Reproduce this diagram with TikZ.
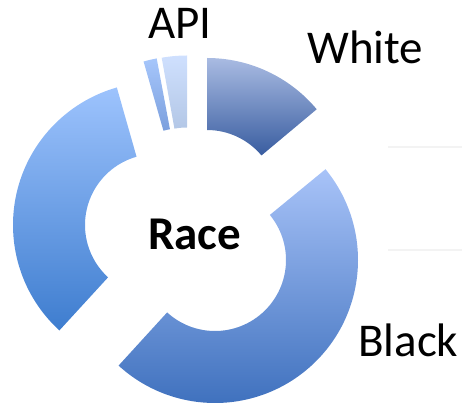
\documentclass[tikz,border=0pt]{standalone}
\usepackage{fontspec}
\setmainfont{Carlito}
\usetikzlibrary{calc}
\definecolor{whtop}{HTML}{A9BBE2}
\definecolor{whbot}{HTML}{395DA0}
\definecolor{bktop}{HTML}{A8C3F8}
\definecolor{bkbot}{HTML}{3A6DBB}
\definecolor{lftop}{HTML}{9DC3FD}
\definecolor{lfbot}{HTML}{3E7DCF}
\definecolor{aatop}{HTML}{A6C6FB}
\definecolor{aabot}{HTML}{7B9FDD}
\definecolor{abtop}{HTML}{CFE0FE}
\definecolor{abbot}{HTML}{B3C7E6}
\definecolor{faint}{HTML}{F3F3F3}
\newcommand{\ringseg}[6]{%
  % #1 centre, #2 start angle, #3 end angle, #4 top colour, #5 bottom colour, #6 name
  \coordinate (#6) at #1;
  \path[top color=#4, bottom color=#5, draw=none]
    ($(#6)+(#2:143)$) arc[start angle=#2, end angle=#3, radius=143]
    -- ($(#6)+(#3:71)$) arc[start angle=#3, end angle=#2, radius=71] -- cycle;
}
\tikzset{lbl/.style={anchor=base west, inner sep=0pt, font=\fontsize{47}{52}\selectfont}}
\begin{document}
\begin{tikzpicture}[x=1pt,y=1pt]
\useasboundingbox (0,0) rectangle (462,407);
\draw[faint, line width=2] (388,260) -- (462,260);
\draw[faint, line width=2] (388,157) -- (462,157);
\ringseg{(207,206)}{90}{39.9}{whtop}{whbot}{cwhite}
\ringseg{(215,147)}{39.4}{-132.4}{bktop}{bkbot}{cblack}
\ringseg{(156,182)}{227.5}{105.9}{lftop}{lfbot}{cleft}
\ringseg{(183,208)}{106}{100.6}{aatop}{aabot}{capia}
\ringseg{(187,208.5)}{100.2}{90}{abtop}{abbot}{capib}
\node[lbl] (api) at (148,368) {API};
\node[lbl] (white) at (307,343) {White};
\node[lbl] (black) at (358,51) {Black};
\node[lbl, font=\fontsize{47}{52}\selectfont\bfseries] (race) at (148,158) {Race};
\end{tikzpicture}
\end{document}
